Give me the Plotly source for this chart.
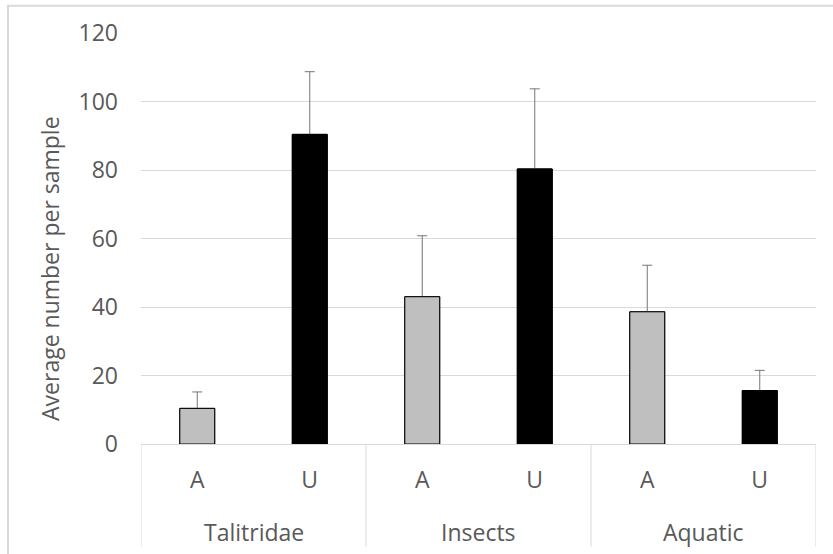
import plotly.graph_objects as go

# Mean counts per sample by taxon group and site type, with one-sided error bars
groups = ["Talitridae", "Insects", "Aquatic"]
site_types = ["A", "U"]
mean_a = [10.4, 43.0, 38.6]
err_a = [4.8, 17.8, 13.6]
mean_u = [90.4, 80.3, 15.6]
err_u = [18.3, 23.4, 5.9]
y_ticks = [0, 20, 40, 60, 80, 100, 120]

font_family = "Open Sans"
text_color = "#595959"
grid_color = "#d9d9d9"
font_size = 23
bar_width = 0.31

# One category per (group, site type), in group order
categories = [f"{g} {s}" for g in groups for s in site_types]
category_text = [s for g in groups for s in site_types]

series = [
    ("A", mean_a, err_a, "#bfbfbf"),
    ("U", mean_u, err_u, "#000000"),
]

fig = go.Figure()

# Error bars sit in a lower layer running down to zero, so only the part
# above each bar stays visible once the bars are drawn over them.
for name, means, errs, color in series:
    fig.add_trace(go.Bar(
        x=[f"{g} {name}" for g in groups],
        y=means,
        width=bar_width,
        marker=dict(color=color, line=dict(color="#000000", width=1)),
        error_y=dict(type="data", symmetric=False, array=errs, arrayminus=means,
                     color="#767676", thickness=1, width=5),
        showlegend=False,
        hoverinfo="skip",
    ))
for name, means, errs, color in series:
    fig.add_trace(go.Bar(
        x=[f"{g} {name}" for g in groups],
        y=means,
        width=bar_width,
        marker=dict(color=color, line=dict(color="#000000", width=1)),
        showlegend=False,
        name=name,
    ))

# Group labels under the A/U labels, with divider lines between groups
n_sub = len(site_types)
label_y = -0.214
divider_bottom = -0.25
annotations = []
shapes = []
for i, g in enumerate(groups):
    annotations.append(dict(
        text=g, xref="x", yref="paper",
        x=i * n_sub + (n_sub - 1) / 2, y=label_y,
        xanchor="center", yanchor="middle", showarrow=False,
        font=dict(family=font_family, size=font_size, color=text_color),
    ))
for k in range(len(groups) + 1):
    shapes.append(dict(
        type="line", xref="x", yref="paper",
        x0=k * n_sub - 0.5, x1=k * n_sub - 0.5, y0=0, y1=divider_bottom,
        line=dict(color=grid_color, width=1),
    ))

annotations.append(dict(
    text="Average number per sample",
    xref="paper", yref="paper",
    x=-0.135, y=0.428,
    xanchor="center", yanchor="middle",
    textangle=-90,
    showarrow=False,
    font=dict(family=font_family, size=font_size, color=text_color),
))
shapes.append(dict(
    type="rect", xref="paper", yref="paper",
    x0=-0.197, x1=1.2, y0=-0.5, y1=1.066,
    line=dict(color=grid_color, width=2),
    fillcolor="rgba(0,0,0,0)",
    layer="below",
))

fig.update_layout(
    width=833,
    height=554,
    margin=dict(l=141, r=17, t=33, b=110),
    barmode="overlay",
    plot_bgcolor="white",
    paper_bgcolor="white",
    font=dict(family=font_family, size=font_size, color=text_color),
    xaxis=dict(
        type="category",
        categoryorder="array",
        categoryarray=categories,
        tickvals=categories,
        ticktext=category_text,
        range=[-0.5, len(categories) - 0.5],
        showline=True,
        linecolor=grid_color,
        linewidth=1,
        ticks="",
        showgrid=False,
        ticklabelstandoff=15,
        tickfont=dict(family=font_family, size=font_size, color=text_color),
    ),
    yaxis=dict(
        range=[0, 120],
        tickvals=y_ticks,
        showgrid=True,
        gridcolor=grid_color,
        gridwidth=1,
        zeroline=False,
        showline=False,
        ticks="",
        ticklabelstandoff=22,
        tickfont=dict(family=font_family, size=font_size, color=text_color),
    ),
    annotations=annotations,
    shapes=shapes,
)

fig.write_html("out.html")
